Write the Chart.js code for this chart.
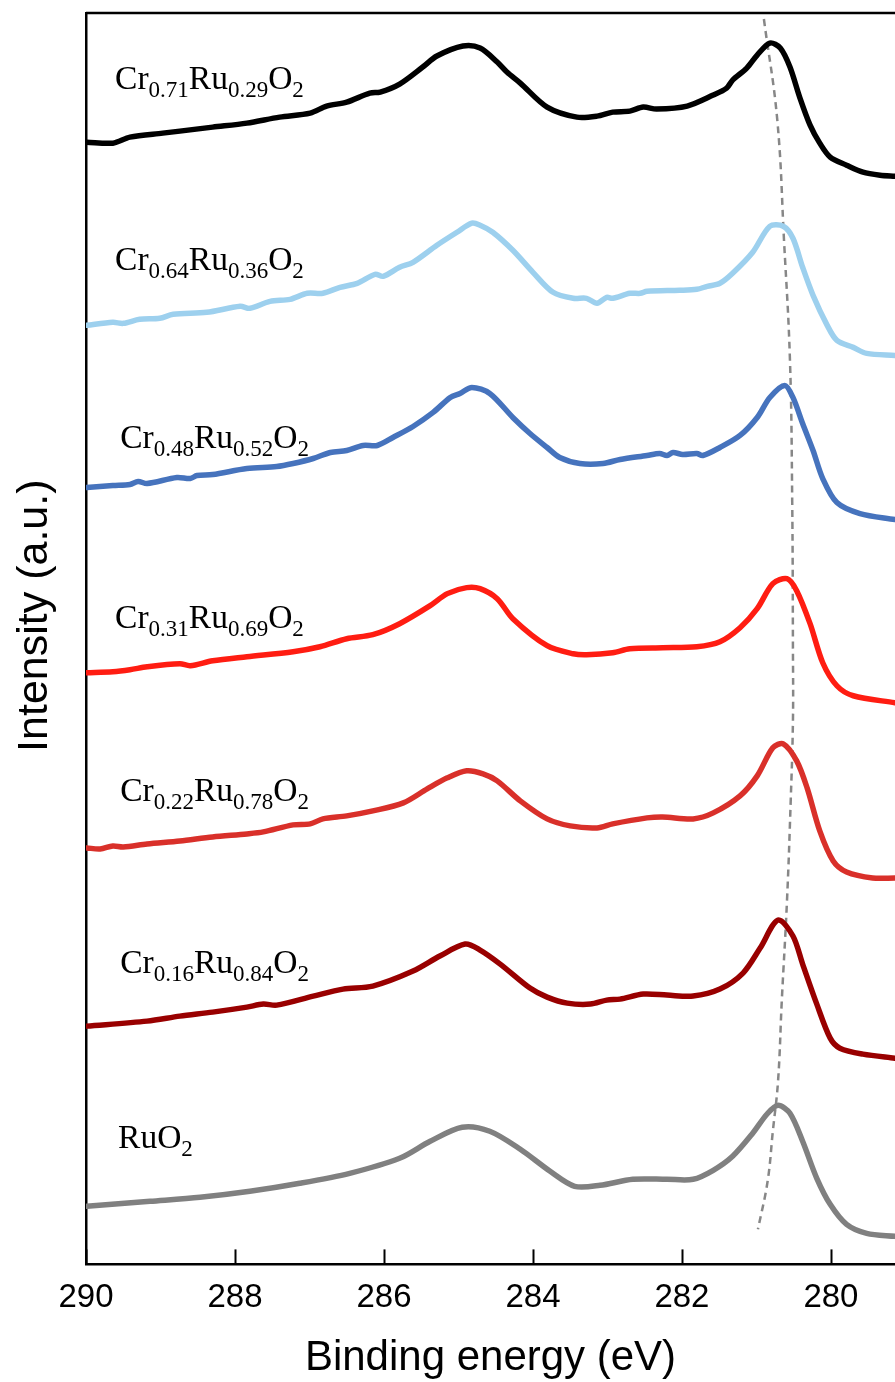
<!DOCTYPE html>
<html>
<head>
<meta charset="utf-8">
<script src="https://cdn.jsdelivr.net/npm/chart.js@4.4.1/dist/chart.umd.min.js"></script>
<style>
  html, body { margin: 0; padding: 0; background: #ffffff; }
  #wrap { width: 895px; height: 1382px; }
</style>
</head>
<body>
<div id="wrap"><canvas id="xps" width="895" height="1382"></canvas></div>
<script>
// Ru 3d / C 1s XPS spectra, stacked with vertical offsets (binding energy eV, intensity a.u.)
const cr071 = [[289.99,112.1],[289.64,112.0],[289.41,112.6],[288.97,113.0],[288.74,113.2],[288.30,113.6],[287.84,114.0],[287.40,114.6],[286.99,115.0],[286.77,115.7],[286.50,116.1],[286.19,117.0],[286.05,117.1],[285.79,117.9],[285.48,119.6],[285.29,120.7],[284.94,121.7],[284.71,121.5],[284.48,120.1],[284.35,119.1],[284.17,118.0],[283.81,115.6],[283.41,114.6],[283.14,114.7],[282.93,115.1],[282.70,115.2],[282.52,115.6],[282.34,115.4],[281.93,115.7],[281.58,116.8],[281.40,117.5],[281.32,118.3],[281.13,119.5],[280.99,120.8],[280.82,122.0],[280.68,121.5],[280.55,119.6],[280.42,116.6],[280.28,113.8],[280.15,112.0],[280.01,110.6],[279.79,109.8],[279.57,109.1],[279.34,108.8],[279.14,108.7]];
const cr064 = [[289.99,93.8],[289.64,94.1],[289.50,94.0],[289.28,94.4],[289.01,94.5],[288.83,94.9],[288.38,95.1],[287.93,95.7],[287.80,95.5],[287.53,96.2],[287.26,96.4],[287.03,97.0],[286.82,97.0],[286.59,97.6],[286.36,98.0],[286.12,98.9],[286.01,98.7],[285.79,99.6],[285.61,100.1],[285.29,101.8],[285.02,103.1],[284.82,104.0],[284.71,103.8],[284.54,103.1],[284.27,101.3],[284.00,99.1],[283.73,97.1],[283.46,96.5],[283.28,96.5],[283.14,96.0],[283.01,96.6],[282.93,96.5],[282.70,97.0],[282.56,97.0],[282.47,97.2],[282.03,97.3],[281.80,97.4],[281.66,97.7],[281.49,98.0],[281.32,99.0],[281.05,101.1],[280.82,103.7],[280.64,103.7],[280.51,102.5],[280.38,99.6],[280.24,96.8],[280.05,93.8],[279.92,92.3],[279.70,91.6],[279.52,91.0],[279.14,90.8]];
const cr048 = [[289.99,77.6],[289.64,77.8],[289.41,77.9],[289.30,78.2],[289.18,78.0],[288.78,78.6],[288.60,78.5],[288.51,78.8],[288.30,78.9],[287.84,79.5],[287.44,79.7],[287.22,80.0],[286.95,80.5],[286.72,81.1],[286.50,81.3],[286.28,81.8],[286.09,81.8],[285.88,82.6],[285.61,83.7],[285.34,85.1],[285.11,86.6],[284.98,87.0],[284.82,87.6],[284.58,87.0],[284.27,84.6],[284.04,83.0],[283.81,81.6],[283.64,80.6],[283.37,80.0],[283.06,80.0],[282.83,80.4],[282.47,80.8],[282.30,81.0],[282.20,80.8],[282.12,81.1],[281.99,80.9],[281.80,81.0],[281.72,80.8],[281.49,81.6],[281.22,82.8],[280.99,84.6],[280.82,86.6],[280.62,87.8],[280.51,86.6],[280.38,84.0],[280.24,81.3],[280.11,78.5],[279.92,76.1],[279.61,75.0],[279.14,74.4]];
const cr031 = [[289.99,59.1],[289.64,59.2],[289.41,59.4],[289.18,59.7],[288.74,60.0],[288.60,59.8],[288.30,60.3],[287.84,60.7],[287.22,61.2],[286.86,61.7],[286.50,62.5],[286.15,62.9],[285.79,64.0],[285.38,65.8],[285.15,67.0],[284.89,67.6],[284.71,67.5],[284.48,66.5],[284.27,64.5],[283.81,61.8],[283.46,61.0],[283.28,60.9],[282.93,61.1],[282.70,61.5],[282.26,61.6],[281.80,61.7],[281.49,62.2],[281.22,63.6],[280.99,65.5],[280.78,68.0],[280.59,68.5],[280.46,67.3],[280.28,64.0],[280.11,60.1],[279.92,57.8],[279.70,56.8],[279.14,56.1]];
const cr022 = [[289.99,41.6],[289.81,41.5],[289.64,41.8],[289.50,41.7],[289.18,42.0],[288.74,42.3],[288.30,42.7],[287.84,43.0],[287.62,43.2],[287.22,43.9],[286.99,44.0],[286.82,44.5],[286.50,44.8],[286.15,45.3],[285.74,46.1],[285.42,47.5],[285.15,48.6],[284.89,49.3],[284.67,49.0],[284.48,48.3],[284.17,46.3],[283.81,44.5],[283.50,43.8],[283.14,43.6],[282.93,44.0],[282.47,44.6],[282.26,44.7],[281.85,44.5],[281.58,45.1],[281.22,46.8],[280.99,48.8],[280.78,51.6],[280.64,52.0],[280.46,50.3],[280.32,47.6],[280.15,43.3],[279.97,40.3],[279.79,39.2],[279.44,38.6],[279.14,38.6]];
const cr016 = [[289.99,23.8],[289.18,24.3],[288.74,24.8],[288.30,25.2],[287.84,25.7],[287.62,26.0],[287.44,25.9],[286.95,26.8],[286.55,27.5],[286.15,27.8],[285.61,29.3],[285.25,30.8],[284.91,32.0],[284.71,31.4],[284.44,30.0],[284.04,27.6],[283.81,26.7],[283.54,26.1],[283.23,26.0],[283.01,26.4],[282.83,26.5],[282.52,27.0],[282.20,26.9],[281.85,26.8],[281.49,27.5],[281.18,29.1],[280.95,31.6],[280.71,34.4],[280.51,32.8],[280.38,30.0],[280.19,26.0],[280.01,22.6],[279.88,21.6],[279.57,21.0],[279.14,20.6]];
const ruo2 = [[289.99,5.8],[289.14,6.3],[288.47,6.7],[287.80,7.3],[287.13,8.1],[286.46,9.1],[285.79,10.6],[285.38,12.3],[284.95,13.7],[284.58,13.3],[284.17,11.5],[283.77,9.3],[283.44,7.8],[283.10,7.9],[282.66,8.5],[282.20,8.5],[281.85,8.5],[281.58,9.4],[281.32,10.8],[281.05,13.1],[280.86,15.0],[280.71,15.9],[280.55,15.1],[280.38,12.3],[280.19,8.6],[280.01,6.0],[279.79,4.0],[279.52,3.1],[279.14,2.8]];

// Guide through the Ru 3d5/2 peak maxima
const peakGuide = [[280.90,124.4],[280.72,114.3],[280.63,102.3],[280.55,90.3],[280.52,76.3],[280.51,61.3],[280.51,54.3],[280.54,46.3],[280.59,36.3],[280.66,26.3],[280.71,18.3],[280.78,13.3],[280.85,8.3],[280.98,3.5]];

const seriesNames = ['Cr0.71Ru0.29O2','Cr0.64Ru0.36O2','Cr0.48Ru0.52O2','Cr0.31Ru0.69O2','Cr0.22Ru0.78O2','Cr0.16Ru0.84O2','RuO2'];
const seriesData = [cr071, cr064, cr048, cr031, cr022, cr016, ruo2];
const seriesColors = ['#000000','#9dd0ee','#4673bd','#ff1d12','#d9302a','#990000','#808080'];

// Sample labels: text segments (1 = subscript), anchor energy, anchor intensity (baseline)
const labelParts = [
  [['Cr',0],['0.71',1],['Ru',0],['0.29',1],['O',0],['2',1]],
  [['Cr',0],['0.64',1],['Ru',0],['0.36',1],['O',0],['2',1]],
  [['Cr',0],['0.48',1],['Ru',0],['0.52',1],['O',0],['2',1]],
  [['Cr',0],['0.31',1],['Ru',0],['0.69',1],['O',0],['2',1]],
  [['Cr',0],['0.22',1],['Ru',0],['0.78',1],['O',0],['2',1]],
  [['Cr',0],['0.16',1],['Ru',0],['0.84',1],['O',0],['2',1]],
  [['RuO',0],['2',1]]
];
const labelE = [289.61, 289.61, 289.54, 289.61, 289.54, 289.54, 289.57];
const labelI = [117.4, 99.3, 81.5, 63.6, 46.3, 29.1, 11.6];

const xTicks = [290, 288, 286, 284, 282, 280];
const yTitle = 'Intensity (a.u.)';
const yTitleAt = 64.8;

const toPts = arr => arr.map(p => ({x: p[0], y: p[1]}));

const datasets = seriesData.map((d, i) => ({
  label: seriesNames[i],
  data: toPts(d),
  borderColor: seriesColors[i],
  borderWidth: 5.5,
  pointRadius: 0,
  tension: 0.3,
  borderCapStyle: 'round',
  borderJoinStyle: 'round',
  fill: false
}));
datasets.push({
  label: 'guide',
  data: toPts(peakGuide),
  borderColor: '#878787',
  borderWidth: 2.5,
  borderDash: [7, 5],
  pointRadius: 0,
  tension: 0.4,
  fill: false
});

const frameAndLabels = {
  id: 'frameAndLabels',
  afterDatasetsDraw(chart) {
    const {ctx, chartArea: a, scales: {x, y}} = chart;
    ctx.save();
    // top frame line
    ctx.strokeStyle = '#000';
    ctx.lineWidth = 2.5;
    ctx.beginPath();
    ctx.moveTo(a.left, a.top);
    ctx.lineTo(a.right, a.top);
    ctx.stroke();
    // inward tick marks on the energy axis
    ctx.lineWidth = 2;
    x.ticks.forEach(t => {
      const px = Math.round(x.getPixelForValue(t.value)) + 0.5;
      ctx.beginPath();
      ctx.moveTo(px, a.bottom);
      ctx.lineTo(px, a.bottom - 15);
      ctx.stroke();
    });
    // vertical axis title
    ctx.fillStyle = '#000';
    ctx.save();
    ctx.translate(35, y.getPixelForValue(yTitleAt));
    ctx.rotate(-Math.PI / 2);
    ctx.textAlign = 'center';
    ctx.textBaseline = 'middle';
    ctx.font = '43px "Liberation Sans", Arial, sans-serif';
    ctx.fillText(yTitle, 0, 0);
    ctx.restore();
    // sample names with subscripts
    ctx.textBaseline = 'alphabetic';
    ctx.textAlign = 'left';
    labelParts.forEach((parts, i) => {
      let px = x.getPixelForValue(labelE[i]);
      const py = y.getPixelForValue(labelI[i]);
      parts.forEach(([txt, sub]) => {
        ctx.font = sub ? '23px "Liberation Serif", "Times New Roman", serif'
                       : '33.5px "Liberation Serif", "Times New Roman", serif';
        ctx.fillText(txt, px, sub ? py + 8 : py);
        px += ctx.measureText(txt).width;
      });
    });
    ctx.restore();
  }
};

new Chart(document.getElementById('xps'), {
  type: 'line',
  data: { datasets },
  options: {
    responsive: false,
    animation: false,
    devicePixelRatio: 1,
    layout: { padding: { top: 13, right: 0, bottom: 0, left: 86 } },
    plugins: { legend: { display: false }, tooltip: { enabled: false } },
    scales: {
      x: {
        type: 'linear',
        reverse: true,
        min: 279.14,
        max: 290,
        afterBuildTicks: s => { s.ticks = xTicks.map(v => ({value: v})); },
        grid: { display: false, drawTicks: false },
        border: { display: true, color: '#000', width: 2.5 },
        ticks: {
          color: '#000',
          padding: 14,
          maxRotation: 0,
          autoSkip: false,
          font: { family: '"Liberation Sans", Arial, sans-serif', size: 33 }
        },
        title: {
          display: true,
          text: 'Binding energy (eV)',
          color: '#000',
          font: { family: '"Liberation Sans", Arial, sans-serif', size: 42, lineHeight: 1 },
          padding: { top: 5, bottom: 3 }
        }
      },
      y: {
        type: 'linear',
        min: 0,
        max: 125,
        grid: { display: false, drawTicks: false },
        border: { display: true, color: '#000', width: 2.5 },
        ticks: { display: false }
      }
    }
  },
  plugins: [frameAndLabels]
});
</script>
</body>
</html>
